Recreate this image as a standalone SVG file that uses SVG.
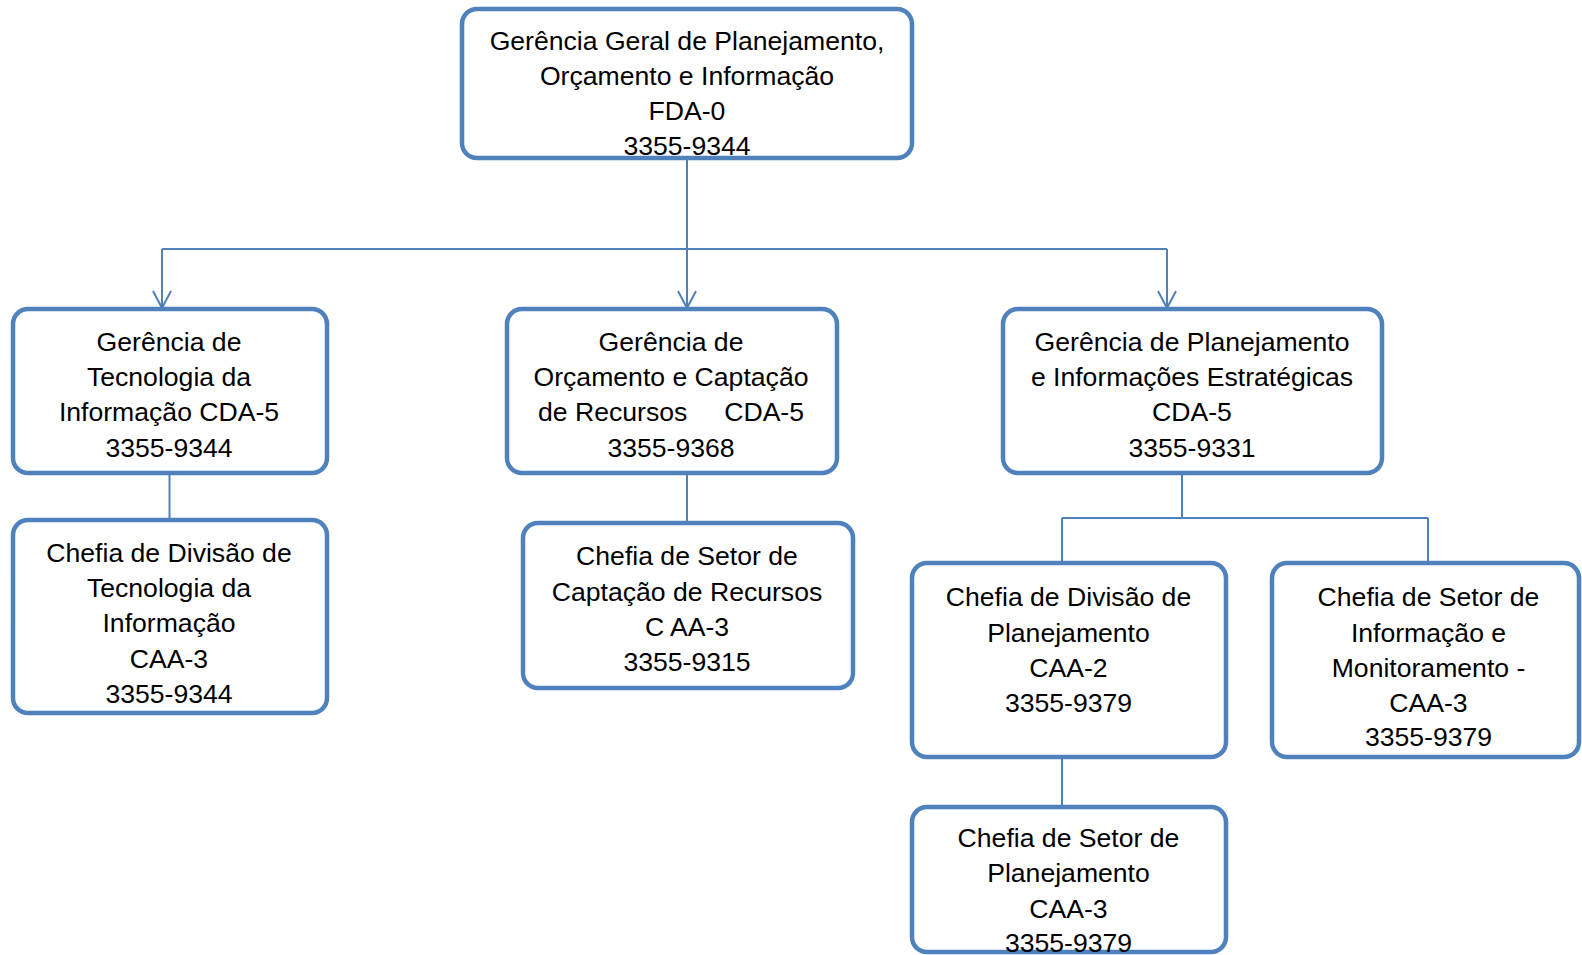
<svg xmlns="http://www.w3.org/2000/svg" width="1582" height="955" viewBox="0 0 1582 955">
<style>
.box{fill:#ffffff;stroke:#4F81BD;stroke-width:4.5}
.lbl{font-family:"Liberation Sans",Arial,sans-serif;font-size:26.6px;fill:#000;text-anchor:middle}
.con{fill:none;stroke:#4F81BD;stroke-width:2}
</style>
<defs>
<marker id="arr" viewBox="-2 -2 22 22" refX="17" refY="9" markerWidth="22" markerHeight="22" markerUnits="userSpaceOnUse" orient="auto" overflow="visible">
<path d="M0,0 L17,9 L0,18" fill="none" stroke="#4F81BD" stroke-width="2"/>
</marker>
</defs>
<g id="connectors">
<path class="con" d="M687,158 V249"/>
<path class="con" d="M162,249 H1167"/>
<path class="con" d="M162,249 V308" marker-end="url(#arr)"/>
<path class="con" d="M687,249 V308" marker-end="url(#arr)"/>
<path class="con" d="M1167,249 V308" marker-end="url(#arr)"/>
<path class="con" d="M169.5,473 V520"/>
<path class="con" d="M687,473 V523"/>
<path class="con" d="M1182,473 V518 M1062,518 H1428 M1062,518 V563 M1428,518 V563"/>
<path class="con" d="M1062,757 V807"/>
</g>
<g id="n0">
<rect class="box" x="462" y="9" width="450" height="149" rx="15"/>
<text class="lbl" x="687" y="50">Gerência Geral de Planejamento,</text>
<text class="lbl" x="687" y="85">Orçamento e Informação</text>
<text class="lbl" x="687" y="120">FDA-0</text>
<text class="lbl" x="687" y="155">3355-9344</text>
</g>
<g id="n1">
<rect class="box" x="13" y="309" width="314" height="164" rx="15"/>
<text class="lbl" x="169" y="350.5">Gerência de</text>
<text class="lbl" x="169" y="386">Tecnologia da</text>
<text class="lbl" x="169" y="421">Informação CDA-5</text>
<text class="lbl" x="169" y="456.5">3355-9344</text>
</g>
<g id="n2">
<rect class="box" x="507" y="309" width="330" height="164" rx="15"/>
<text class="lbl" x="671" y="350.5">Gerência de</text>
<text class="lbl" x="671" y="386">Orçamento e Captação</text>
<text class="lbl" x="671" y="421" xml:space="preserve">de Recursos     CDA-5</text>
<text class="lbl" x="671" y="456.5">3355-9368</text>
</g>
<g id="n3">
<rect class="box" x="1003" y="309" width="379" height="164" rx="15"/>
<text class="lbl" x="1192" y="350.5">Gerência de Planejamento</text>
<text class="lbl" x="1192" y="386">e Informações Estratégicas</text>
<text class="lbl" x="1192" y="421">CDA-5</text>
<text class="lbl" x="1192" y="456.5">3355-9331</text>
</g>
<g id="n4">
<rect class="box" x="13" y="520" width="314" height="193" rx="15"/>
<text class="lbl" x="169" y="561.5">Chefia de Divisão de</text>
<text class="lbl" x="169" y="597">Tecnologia da</text>
<text class="lbl" x="169" y="632">Informação</text>
<text class="lbl" x="169" y="667.5">CAA-3</text>
<text class="lbl" x="169" y="702.5">3355-9344</text>
</g>
<g id="n5">
<rect class="box" x="523" y="523" width="330" height="165" rx="15"/>
<text class="lbl" x="687" y="564.5">Chefia de Setor de</text>
<text class="lbl" x="687" y="600.5">Captação de Recursos</text>
<text class="lbl" x="687" y="636">C AA-3</text>
<text class="lbl" x="687" y="670.5">3355-9315</text>
</g>
<g id="n6">
<rect class="box" x="912" y="563" width="314" height="194" rx="15"/>
<text class="lbl" x="1068.5" y="606">Chefia de Divisão de</text>
<text class="lbl" x="1068.5" y="642">Planejamento</text>
<text class="lbl" x="1068.5" y="676.5">CAA-2</text>
<text class="lbl" x="1068.5" y="711.5">3355-9379</text>
</g>
<g id="n7">
<rect class="box" x="1272" y="563" width="307" height="194" rx="15"/>
<text class="lbl" x="1428.5" y="606">Chefia de Setor de</text>
<text class="lbl" x="1428.5" y="642">Informação e</text>
<text class="lbl" x="1428.5" y="676.5">Monitoramento -</text>
<text class="lbl" x="1428.5" y="711.5">CAA-3</text>
<text class="lbl" x="1428.5" y="746">3355-9379</text>
</g>
<g id="n8">
<rect class="box" x="912" y="807" width="314" height="145" rx="15"/>
<text class="lbl" x="1068.5" y="847">Chefia de Setor de</text>
<text class="lbl" x="1068.5" y="882">Planejamento</text>
<text class="lbl" x="1068.5" y="917.5">CAA-3</text>
<text class="lbl" x="1068.5" y="952">3355-9379</text>
</g>
</svg>
